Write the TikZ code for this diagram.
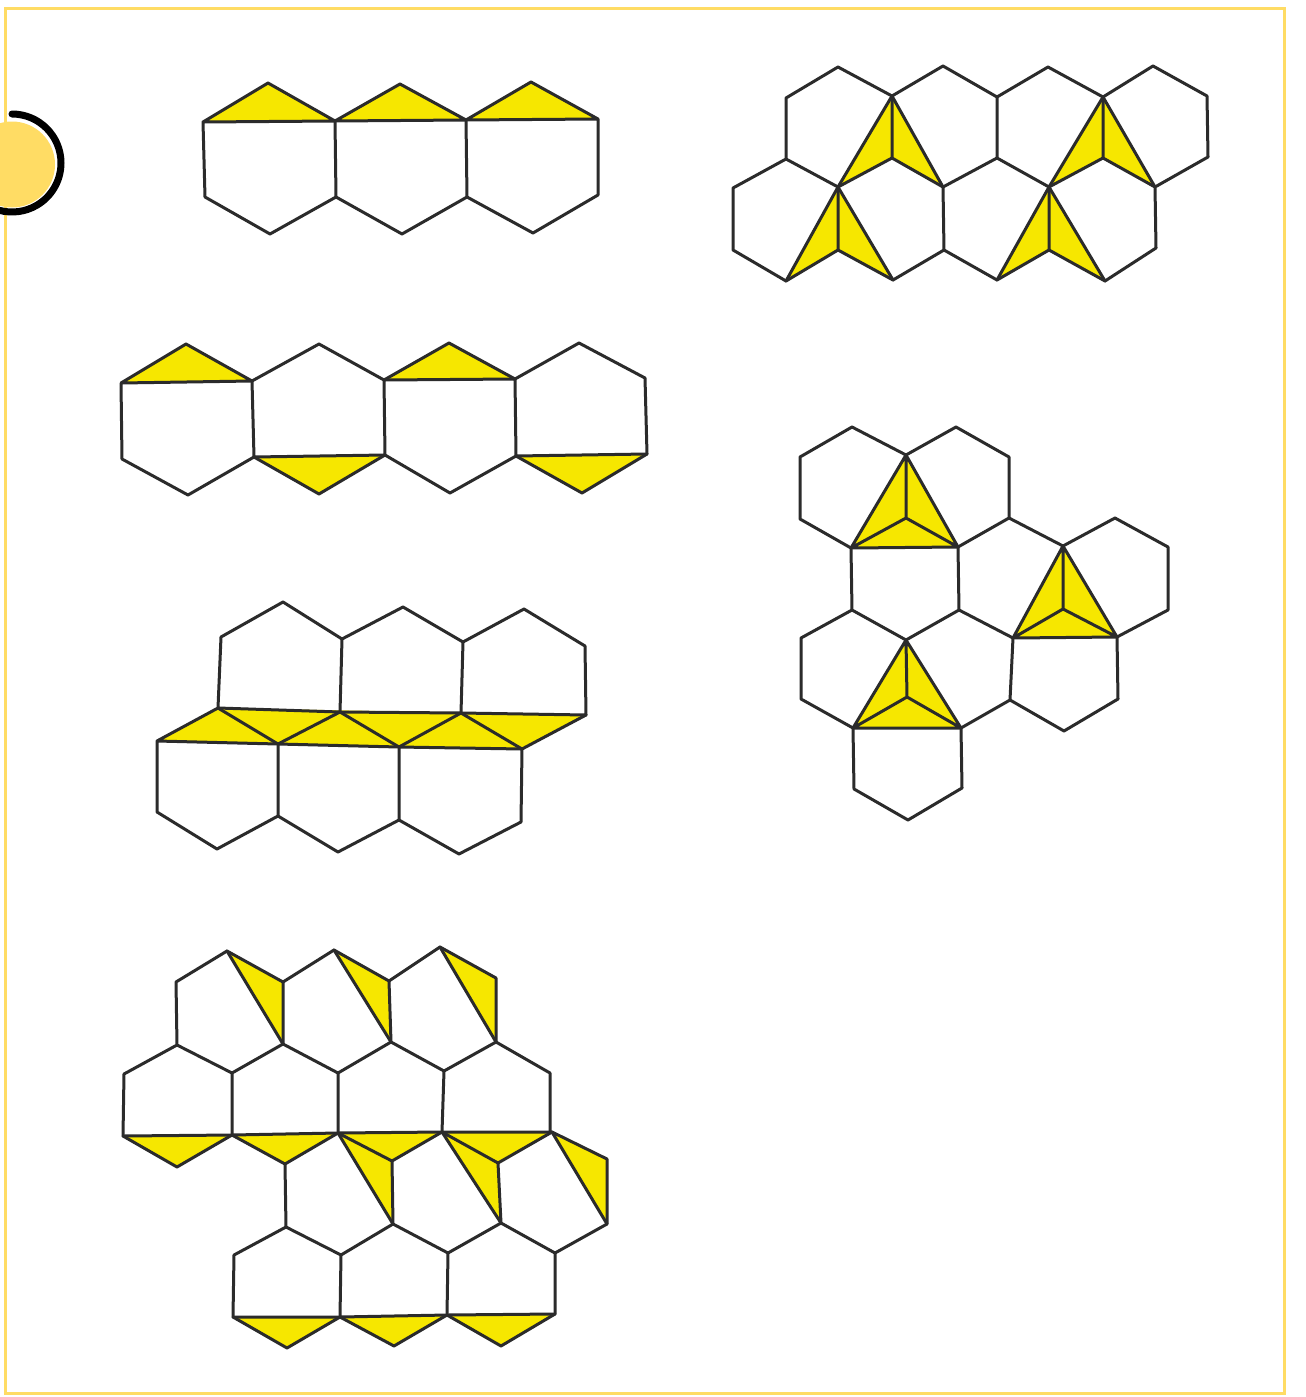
\documentclass[tikz,border=0pt]{standalone}
\definecolor{framey}{HTML}{FFDC64}
\definecolor{cellfill}{HTML}{F6E700}
\definecolor{edge}{HTML}{2B2B2B}
\tikzset{
  frameline/.style={draw=framey,line width=3pt},
  cell/.style={fill=cellfill,draw=none},
  net/.style={draw=edge,line width=3pt,line join=round,line cap=round},
}
\begin{document}
\begin{tikzpicture}[x=1pt,y=-1pt]
\useasboundingbox (0,0) rectangle (1306,1397);
\fill[white] (0,0) rectangle (1306,1397);
\draw[frameline] (5,9) rectangle (1284,1393);
% badge
\begin{scope}
\clip (0,0) rectangle (1306,1397);
\fill[framey] (12,164.5) ellipse [x radius=43pt,y radius=43pt];
\draw[line width=7pt,line cap=round,black] (12,114) arc[start angle=90,end angle=-105,x radius=49pt,y radius=49pt];
\end{scope}
% Figure 1
\path[cell] (203,122)--(268,83)--(335,121)--cycle (335,121)--(400,84)--(466,120)--cycle (466,120)--(531,82)--(598,119)--cycle;
\draw[net] (203,122)--(268,83)--(335,121)--(400,84)--(466,120)--(531,82)--(598,119)--(598,195)--(533,233)--(467,197)--(402,234)--(336,197)--(270,234)--(205,197)--(203,122)--(335,121)--(466,120)--(598,119);
\draw[net] (335,121)--(336,197) (466,120)--(467,197);
% Figure 2
\path[cell] (121,383)--(186,344)--(252,381)--cycle (384,380)--(449,343)--(515,379)--cycle (254,457)--(319,494)--(385,455)--cycle (516,456)--(582,493)--(647,454)--cycle;
\draw[net] (121,383)--(186,344)--(252,381)--(319,344)--(384,380)--(449,343)--(515,379)--(579,343)--(645,378)--(647,454)--(582,493)--(516,456)--(450,493)--(385,455)--(319,494)--(254,457)--(188,495)--(122,459)--(121,383)--(252,381);
\draw[net] (252,381)--(254,457) (384,380)--(385,455) (515,379)--(516,456) (384,380)--(515,379) (254,457)--(385,455) (516,456)--(647,454);
% Figure 3
\path[cell] (218,708)--(586,715)--(522,749)--(157,741)--cycle;
\draw[net] (218,708)--(221,637)--(283,602)--(342,639)--(403,607)--(463,642)--(524,609)--(585,646)--(586,715)--(461,713)--(340,712)--(218,708)--(157,741)--(157,812)--(217,849)--(278,816)--(338,852)--(399,820)--(459,854)--(521,822)--(522,749)--(399,747)--(278,744)--(157,741);
\draw[net] (342,639)--(340,712) (463,642)--(461,713) (278,744)--(278,816) (399,747)--(399,820);
\draw[net] (218,708)--(278,744)--(340,712)--(399,747)--(461,713)--(522,749)--(586,715);
% Figure 4
\path[cell] (227,951)--(283,982)--(283,1044)--cycle (334,950)--(389,981)--(391,1042)--cycle (440,947)--(496,978)--(496,1042)--cycle
 (123,1136)--(177,1167)--(232,1135)--cycle (232,1135)--(285,1164)--(338,1133)--cycle (338,1133)--(392,1161)--(442,1132)--cycle (442,1132)--(498,1163)--(552,1132)--cycle
 (338,1133)--(392,1161)--(393,1224)--cycle (442,1132)--(498,1163)--(501,1223)--cycle (552,1132)--(607,1159)--(607,1224)--cycle
 (233,1317)--(287,1348)--(340,1317)--cycle (340,1317)--(394,1346)--(447,1315)--cycle (447,1315)--(501,1346)--(555,1314)--cycle;
\draw[net] (177,1045)--(176,982)--(227,951)--(283,982)--(334,950)--(389,981)--(440,947)--(496,978)--(496,1042)--(444,1071)--(391,1042)--(338,1073)--(283,1044)--(232,1073)--(177,1045)--(124,1074)--(123,1136)--(177,1167)--(232,1135)--(285,1164)--(338,1133)--(392,1161)--(442,1132)--(498,1163)--(552,1132)--(607,1159)--(607,1224)--(555,1253)--(501,1223)--(448,1253)--(393,1224)--(341,1255)--(286,1227)--(234,1255)--(233,1317)--(287,1348)--(340,1317)--(394,1346)--(447,1315)--(501,1346)--(555,1314)--(555,1253);
\draw[net] (496,1042)--(550,1073)--(550,1132);
\draw[net] (283,982)--(283,1044) (389,981)--(391,1042) (232,1073)--(232,1135) (338,1073)--(338,1133) (444,1071)--(442,1132) (285,1164)--(286,1227) (392,1161)--(393,1224) (498,1163)--(501,1223) (341,1255)--(340,1317) (448,1253)--(447,1315);
\draw[net] (123,1136)--(232,1135)--(338,1133)--(442,1132)--(552,1132) (233,1317)--(340,1317)--(447,1315)--(555,1314);
\draw[net] (227,951)--(283,1044) (334,950)--(391,1042) (440,947)--(496,1042) (338,1133)--(393,1224) (442,1132)--(501,1223) (552,1132)--(607,1224);
% Figure 5
\path[cell] (892,96)--(892,158)--(838,187)--cycle (892,96)--(892,158)--(943,187)--cycle (1103,97)--(1103,158)--(1049,187)--cycle (1103,97)--(1103,158)--(1155,187)--cycle
 (838,187)--(838,250)--(786,281)--cycle (838,187)--(838,250)--(893,280)--cycle (1049,187)--(1049,250)--(997,280)--cycle (1049,187)--(1049,250)--(1105,281)--cycle;
\draw[net] (786,159)--(786,98)--(838,67)--(892,96)--(943,66)--(997,97)--(1048,67)--(1103,97)--(1153,66)--(1207,96)--(1208,157)--(1155,187)--(1156,248)--(1105,281)--(1049,250)--(997,280)--(944,250)--(893,280)--(838,250)--(786,281)--(733,250)--(733,188)--(786,159)--(838,187)--(892,158)--(943,187)--(997,158)--(1049,187)--(1103,158)--(1155,187);
\draw[net] (892,96)--(892,158) (997,97)--(997,158) (1103,97)--(1103,158) (838,187)--(838,250) (943,187)--(944,250) (1049,187)--(1049,250);
\draw[net] (892,96)--(838,187) (892,96)--(943,187) (1103,97)--(1049,187) (1103,97)--(1155,187) (838,187)--(786,281) (838,187)--(893,280) (1049,187)--(997,280) (1049,187)--(1105,281);
% Figure 6
\path[cell] (906,455)--(851,548)--(958,547)--cycle (1063,546)--(1013,638)--(1117,637)--cycle (906,640)--(853,728)--(961,728)--cycle;
\draw[net] (851,548)--(800,519)--(800,457)--(852,427)--(906,455)--(956,427)--(1009,457)--(1009,518)--(958,547);
\draw[net] (1009,518)--(1063,546)--(1115,518)--(1168,547)--(1168,610)--(1117,637);
\draw[net] (851,548)--(852,610)--(906,640)--(959,610)--(958,547);
\draw[net] (959,610)--(1013,638);
\draw[net] (852,610)--(801,638)--(801,699)--(853,728);
\draw[net] (961,728)--(1010,700)--(1013,638);
\draw[net] (1010,700)--(1064,731)--(1118,699)--(1117,637);
\draw[net] (853,728)--(854,789)--(908,820)--(962,788)--(961,728);
\draw[net] (906,455)--(851,548)--(958,547)--cycle (906,455)--(906,518) (851,548)--(906,518)--(958,547);
\draw[net] (1063,546)--(1013,638)--(1117,637)--cycle (1063,546)--(1063,609) (1013,638)--(1063,609)--(1117,637);
\draw[net] (906,640)--(853,728)--(961,728)--cycle (906,640)--(907,697) (853,728)--(907,697)--(961,728);
\end{tikzpicture}
\end{document}
